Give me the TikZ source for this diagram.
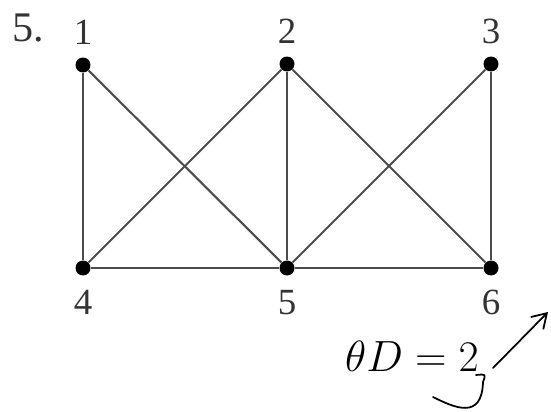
\documentclass[tikz,border=0pt]{standalone}
\usepackage{fontspec}
\setmainfont{Liberation Serif}
\usetikzlibrary{arrows.meta,positioning}

\begin{document}
\begin{tikzpicture}[
  x=0.02cm, y=-0.02cm,
  vertex/.style={circle, fill=black, minimum size=0.3cm, inner sep=0pt},
  vlabel/.style={font=\fontsize{21}{23}\selectfont, text=black!80, inner sep=0pt},
  edge/.style={line width=1.2pt, draw=black!70},
  hand/.style={line width=1pt, line cap=round, line join=round}
]
\useasboundingbox (0,0) rectangle (551,412);

% problem number
\node[vlabel, font=\fontsize{24}{26}\selectfont] (num) at (28,28) {5.};

% vertices
\node[vertex] (v1) at (83,65) {};
\node[vertex] (v2) at (287,64) {};
\node[vertex] (v3) at (491,64) {};
\node[vertex] (v4) at (83,268) {};
\node[vertex] (v5) at (287,268) {};
\node[vertex] (v6) at (491,268) {};

% vertex labels
\node[vlabel, above=7pt of v1] (l1) {1};
\node[vlabel, above=7pt of v2] (l2) {2};
\node[vlabel, above=7pt of v3] (l3) {3};
\node[vlabel, below=8pt of v4] (l4) {4};
\node[vlabel, below=8pt of v5] (l5) {5};
\node[vlabel, below=8pt of v6] (l6) {6};

% edges
\draw[edge] (v1) -- (v4);
\draw[edge] (v1) -- (v5);
\draw[edge] (v2) -- (v4);
\draw[edge] (v2) -- (v5);
\draw[edge] (v2) -- (v6);
\draw[edge] (v3) -- (v5);
\draw[edge] (v3) -- (v6);
\draw[edge] (v4) -- (v5);
\draw[edge] (v5) -- (v6);

% handwritten note
\node[font=\fontsize{28}{30}\selectfont, inner sep=0pt] (note) at (412,356) {$\theta D = 2$};
\coordinate (hookA) at (433,397);
\coordinate (hookB) at (483,382);
\coordinate (arrA) at (493,368);
\coordinate (arrB) at (548,312);
\draw[hand] (hookA) .. controls (455,408) and (482,420) .. (hookB)
  .. controls (486,374) .. (476,375);
\draw[hand, -{Straight Barb[length=8pt, width=10pt]}] (arrA) -- (arrB);
\end{tikzpicture}
\end{document}
